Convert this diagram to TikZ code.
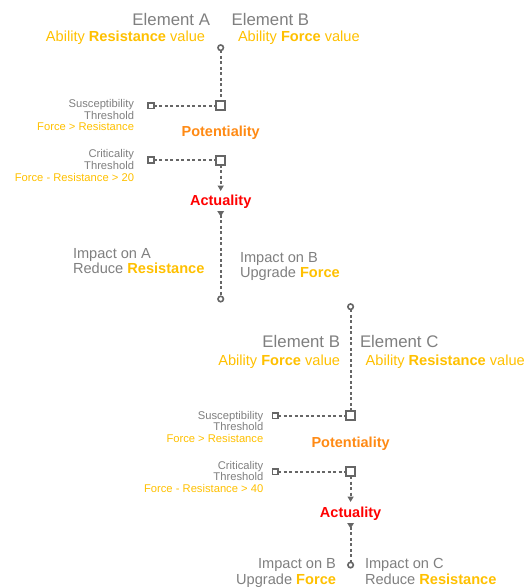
\documentclass[tikz,border=0pt]{standalone}
\usepackage{fontspec}
\setmainfont{Liberation Sans}
\usetikzlibrary{arrows.meta}
\definecolor{txtgray}{HTML}{7F7F7F}
\definecolor{gold}{HTML}{FFC000}
\definecolor{potor}{HTML}{FF8A14}
\definecolor{actred}{HTML}{FF0000}
\definecolor{linegray}{HTML}{666666}
\begin{document}
\begin{tikzpicture}[x=1pt,y=-1pt,
  lbl/.style={inner sep=0pt, outer sep=0pt, text=txtgray},
  big/.style={font=\fontsize{16.8}{18}\selectfont},
  mid/.style={font=\fontsize{14.6}{16}\selectfont},
  sml/.style={font=\fontsize{11.2}{12}\selectfont},
  gd/.style={text=gold},
  state/.style={inner sep=0pt, outer sep=0pt, font=\fontsize{14.5}{16}\selectfont\bfseries},
  bigsq/.style={draw=linegray, fill=white, line width=2pt, minimum size=9pt, inner sep=0pt, outer sep=0pt},
  smallsq/.style={draw=linegray, fill=white, line width=1.8pt, minimum size=5.5pt, inner sep=0pt, outer sep=0pt},
  pin/.style={draw=linegray, fill=white, circle, line width=1.6pt, minimum size=5.5pt, inner sep=0pt, outer sep=0pt},
  dline/.style={draw=linegray, line width=2pt, dash pattern=on 3pt off 2.5pt},
  tip/.style={-{Triangle[length=5.5pt,width=6pt]}},
  tail/.style={{Triangle[reversed,length=5.5pt,width=6.5pt]}-}
]
\useasboundingbox (0,0) rectangle (531,587);

% ---------- Flow 1 ----------
\node[lbl,big,anchor=base east] (eA) at (210,25.7) {Element A};
\node[lbl,big,anchor=base west] (eB) at (231.7,25.7) {Element B};
\node[lbl,mid,gd,anchor=base east] (abA) at (205,41.7) {Ability \textbf{Resistance} value};
\node[lbl,mid,gd,anchor=base west] (abB) at (238,41.7) {Ability \textbf{Force} value};

\node[pin] (c1) at (220.7,47.7) {};
\node[bigsq] (s1) at (220.7,105.7) {};
\node[smallsq] (t1) at (151,105.7) {};
\node[bigsq] (s2) at (220.7,160) {};
\node[smallsq] (t2) at (151,160) {};
\coordinate (a1end) at (220.7,191);
\coordinate (a1start) at (220.7,211);
\node[pin] (c2) at (220.7,299) {};

\draw[dline] (c1) -- (s1);
\draw[dline] (t1) -- (s1);
\draw[dline] (t2) -- (s2);
\draw[dline,tip] (s2) -- (a1end);
\draw[dline,tail] (a1start) -- (c2);

\node[lbl,sml,anchor=base east] (su1) at (134,107.7) {Susceptibility};
\node[lbl,sml,anchor=base east] (th1) at (134,119) {Threshold};
\node[lbl,sml,gd,anchor=base east] (co1) at (134,130.7) {Force > Resistance};
\node[state,text=potor,anchor=base] (pot1) at (220.7,136.7) {Potentiality};
\node[lbl,sml,anchor=base east] (cr1) at (134,157.7) {Criticality};
\node[lbl,sml,anchor=base east] (th2) at (134,169.3) {Threshold};
\node[lbl,sml,gd,anchor=base east] (co2) at (134,181) {Force - Resistance > 20};
\node[state,text=actred,anchor=base] (act1) at (220.7,205) {Actuality};

\node[lbl,mid,anchor=base west] (imA1) at (73,258.3) {Impact on A};
\node[lbl,mid,anchor=base west] (imA2) at (73,273) {Reduce \textcolor{gold}{\textbf{Resistance}}};
\node[lbl,mid,anchor=base west] (imB1) at (240,262.7) {Impact on B};
\node[lbl,mid,anchor=base west] (imB2) at (240,277.5) {Upgrade \textcolor{gold}{\textbf{Force}}};

% ---------- Flow 2 ----------
\node[pin] (c3) at (350.6,306.7) {};
\node[lbl,big,anchor=base east] (eB2) at (340,347.7) {Element B};
\node[lbl,big,anchor=base west] (eC) at (360,347.7) {Element C};
\node[lbl,mid,gd,anchor=base east] (abB2) at (340,365) {Ability \textbf{Force} value};
\node[lbl,mid,gd,anchor=base west] (abC) at (365.7,365) {Ability \textbf{Resistance} value};

\node[bigsq] (s3) at (350.6,415.7) {};
\node[smallsq] (t3) at (275.3,415.7) {};
\node[bigsq] (s4) at (350.6,471.7) {};
\node[smallsq] (t4) at (275.3,471.7) {};
\coordinate (a2end) at (350.6,502);
\coordinate (a2start) at (350.6,523);
\node[pin] (c4) at (350.6,565) {};

\draw[dline] (c3) -- (s3);
\draw[dline] (t3) -- (s3);
\draw[dline] (t4) -- (s4);
\draw[dline,tip] (s4) -- (a2end);
\draw[dline,tail] (a2start) -- (c4);

\node[lbl,sml,anchor=base east] (su2) at (263.3,419) {Susceptibility};
\node[lbl,sml,anchor=base east] (th3) at (263.3,430.7) {Threshold};
\node[lbl,sml,gd,anchor=base east] (co3) at (263.3,442.3) {Force > Resistance};
\node[state,text=potor,anchor=base] (pot2) at (350.6,447.7) {Potentiality};
\node[lbl,sml,anchor=base east] (cr2) at (263.3,469) {Criticality};
\node[lbl,sml,anchor=base east] (th4) at (263.3,480.7) {Threshold};
\node[lbl,sml,gd,anchor=base east] (co4) at (263.3,492.3) {Force - Resistance > 40};
\node[state,text=actred,anchor=base] (act2) at (350.6,517.3) {Actuality};

\node[lbl,mid,anchor=base east] (imB3) at (336,568.3) {Impact on B};
\node[lbl,mid,anchor=base east] (imB4) at (336,584) {Upgrade \textcolor{gold}{\textbf{Force}}};
\node[lbl,mid,anchor=base west] (imC1) at (365,568.3) {Impact on C};
\node[lbl,mid,anchor=base west] (imC2) at (365,584) {Reduce \textcolor{gold}{\textbf{Resistance}}};
\end{tikzpicture}
\end{document}
